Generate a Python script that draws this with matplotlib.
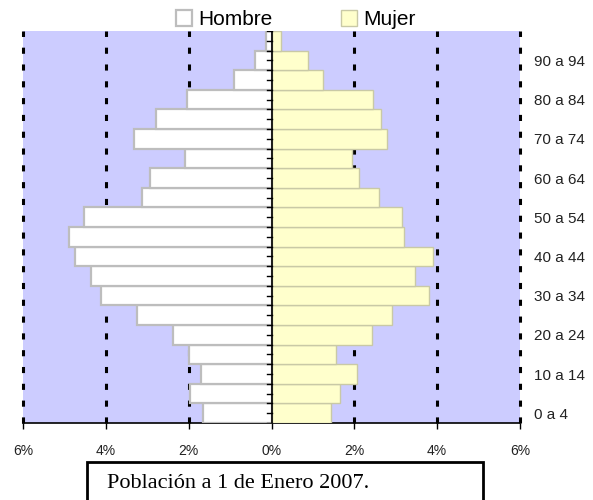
import numpy as np
import matplotlib.pyplot as plt
from matplotlib.patches import Patch, Rectangle

plt.rcParams["font.family"] = ["Liberation Sans", "DejaVu Sans"]

edades = ["0 a 4", "5 a 9", "10 a 14", "15 a 19", "20 a 24", "25 a 29", "30 a 34",
          "35 a 39", "40 a 44", "45 a 49", "50 a 54", "55 a 59", "60 a 64", "65 a 69",
          "70 a 74", "75 a 79", "80 a 84", "85 a 89", "90 a 94", "95 a 99"]
hombre = [1.66, 1.96, 1.70, 1.98, 2.38, 3.25, 4.11, 4.37, 4.74, 4.90,
          4.52, 3.13, 2.93, 2.09, 3.33, 2.79, 2.05, 0.91, 0.40, 0.14]
mujer = [1.43, 1.65, 2.06, 1.56, 2.42, 2.90, 3.81, 3.47, 3.91, 3.19,
         3.15, 2.60, 2.11, 1.94, 2.78, 2.64, 2.45, 1.24, 0.89, 0.22]
xticks = [-6, -4, -2, 0, 2, 4, 6]
xlabels = ["6%", "4%", "2%", "0%", "2%", "4%", "6%"]

fig = plt.figure(figsize=(5.93, 5.00), dpi=100)
ax = fig.add_axes([23 / 593, 1 - 423 / 500, 497 / 593, 392 / 500])
ax.set_facecolor("#CCCCFF")

y = np.arange(len(edades))
ax.barh(y, -np.array(hombre), height=1.0, color="white", edgecolor="#BDBDBD",
        linewidth=1.6, zorder=3)
ax.barh(y, mujer, height=1.0, color="#FFFFCC", edgecolor="#C9C9A6",
        linewidth=1.0, zorder=3)

for x in [-6, -4, -2, 2, 4, 6]:
    ax.axvline(x, color="black", linestyle=(0, (2, 3.5)), linewidth=2.2,
               zorder=2, clip_on=False)

# eje central con marcas
ax.axvline(0, color="black", linewidth=1.2, zorder=4)
for yy in np.arange(-0.5, len(edades), 0.5):
    ax.plot([-0.1, 0], [yy, yy], color="black", linewidth=1.0, zorder=4)

ax.set_xlim(-6, 6)
ax.set_ylim(-0.5, len(edades) - 0.5)
ax.set_xticks(xticks)
ax.set_xticklabels(xlabels, fontsize=10, color="#222222")
ax.tick_params(axis="x", direction="out", length=4, width=1, pad=11)

ax.yaxis.tick_right()
ax.set_yticks(y[::2])
ax.set_yticklabels(edades[::2], fontsize=11, color="#222222")
ax.tick_params(axis="y", length=0, pad=10)

for s in ["top", "left", "right"]:
    ax.spines[s].set_visible(False)
ax.spines["bottom"].set_linewidth(1.2)

handles = [Patch(facecolor="white", edgecolor="#BDBDBD", linewidth=1.6, label="Hombre"),
           Patch(facecolor="#FFFFCC", edgecolor="#C9C9A6", linewidth=1.0, label="Mujer")]
fig.legend(handles=handles, loc="upper center", bbox_to_anchor=(296 / 593, 1.017),
           ncol=2, frameon=False, fontsize=15, handlelength=0.75, handleheight=0.75,
           handletextpad=0.3, columnspacing=3.3)

fig.patches.append(Rectangle((87 / 593, -0.05), 396 / 593, 0.05 + 38 / 500,
                             transform=fig.transFigure, fill=False,
                             edgecolor="black", linewidth=2))
fig.text(107 / 593, 1 - 484 / 500, "Población a 1 de Enero 2007.",
         family="Liberation Serif", fontsize=16, va="center", ha="left")

fig.savefig("out.png", dpi=100)
